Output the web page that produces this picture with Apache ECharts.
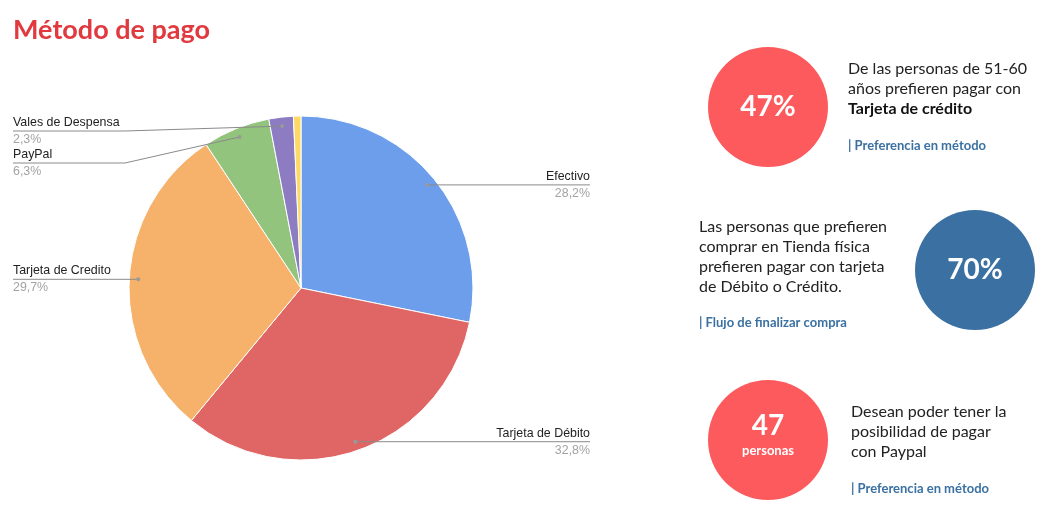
<!DOCTYPE html>
<html>
<head>
<meta charset="UTF-8">
<title>Método de pago</title>
<script src="https://cdn.jsdelivr.net/npm/echarts@6/dist/echarts.min.js"></script>
<style>
  html, body { margin: 0; padding: 0; background: #fff; }
  #main { width: 1060px; height: 523px; }
</style>
</head>
<body>
<div id="main"></div>
<script>
// datos del gráfico
var categories = ['Efectivo', 'Tarjeta de Débito', 'Tarjeta de Credito', 'PayPal', 'Vales de Despensa', 'Otro'];
var shares = [28.2, 32.8, 29.7, 6.3, 2.3, 0.7];
var colors = ['#6d9eeb', '#e06666', '#f6b26b', '#93c47d', '#8e7cc3', '#ffd966'];

// tarjetas de la derecha
var statValues = ['47%', '70%', '47'];
var statUnits = ['', '', 'personas'];
var statColors = ['#fc5a5c', '#3a71a2', '#fc5a5c'];
var statLines = [
  ['De las personas de 51-60', 'años prefieren pagar con', '*Tarjeta de crédito'],
  ['Las personas que prefieren', 'comprar en Tienda física', 'prefieren pagar con tarjeta', 'de Débito o Crédito.'],
  ['Desean poder tener la', 'posibilidad de pagar', 'con Paypal']
];
var statTags = ['| Preferencia en método', '| Flujo de finalizar compra', '| Preferencia en método'];

var PIE_C = [301, 288], PIE_R = 172, DOT_R = 163;
var LEFT_X = 13, RIGHT_X = 590, ELBOW_X = 125, LABEL_TOP = 131, LABEL_GAP = 32;

var dots = [];

function pct(v) {
  return v.toFixed(1).replace('.', ',') + '%';
}

function resolveY(i) {
  var d = dots[i];
  if (!d.left) return d.y;
  var lefts = [];
  dots.forEach(function (o, k) { if (o && o.left) lefts.push(k); });
  lefts.sort(function (a, b) { return dots[a].y - dots[b].y; });
  var prev = LABEL_TOP - LABEL_GAP, res = {};
  lefts.forEach(function (k) {
    var y = Math.max(dots[k].y, prev + LABEL_GAP);
    res[k] = y; prev = y;
  });
  return res[i];
}

function placeLabel(params) {
  var pts = params.labelLinePoints;
  if (!pts) return;
  var i = params.dataIndex;
  var p0 = pts[0];
  dots[i] = { x: p0[0], y: p0[1], left: pts[pts.length - 1][0] < p0[0] };
  var y = resolveY(i);
  if (dots[i].left) {
    var line = y === p0[1] ? [[p0[0], p0[1]], [LEFT_X, y]]
      : [[p0[0], p0[1]], [ELBOW_X, y], [LEFT_X, y]];
    return { x: LEFT_X, y: y, align: 'left', verticalAlign: 'middle', labelLinePoints: line };
  }
  return { x: RIGHT_X, y: y, align: 'right', verticalAlign: 'middle',
    labelLinePoints: [[p0[0], p0[1]], [RIGHT_X, y]] };
}

var pieData = categories.map(function (c, i) {
  var d = { name: c, value: shares[i], itemStyle: { color: colors[i] } };
  if (shares[i] < 1) { d.label = { show: false }; d.labelLine = { show: false }; }
  return d;
});

var FONT = 'Lato, "Open Sans", sans-serif';
var LABEL_FONT = '"Liberation Sans", Arial, sans-serif';
var statPos = [
  { cx: 768, cy: 107, tx: 848, ty: 89, tagY: 146 },
  { cx: 975, cy: 270, tx: 699, ty: 257, tagY: 323 },
  { cx: 768, cy: 440, tx: 851, ty: 432, tagY: 489 }
];

function staticGraphic() {
  var g = [];
  statValues.forEach(function (v, i) {
    var p = statPos[i];
    g.push({ type: 'circle', shape: { cx: p.cx, cy: p.cy, r: 60 }, style: { fill: statColors[i] }, silent: true });
    g.push({ type: 'text', x: p.cx, y: statUnits[i] ? p.cy - 14 : p.cy, silent: true,
      style: { text: v, fill: '#fff', font: 'bold 28px ' + FONT, align: 'center', verticalAlign: 'middle' } });
    if (statUnits[i]) {
      g.push({ type: 'text', x: p.cx, y: p.cy + 11, silent: true,
        style: { text: statUnits[i], fill: '#fff', font: 'bold 13px ' + FONT, align: 'center', verticalAlign: 'middle' } });
    }
    var txt = statLines[i].map(function (l) {
      return l.charAt(0) === '*' ? '{b|' + l.slice(1) + '}' : '{a|' + l + '}';
    }).join('\n');
    g.push({ type: 'text', x: p.tx, y: p.ty, silent: true,
      style: { text: txt, align: 'left', verticalAlign: 'middle',
        rich: {
          a: { fontSize: 16, fontFamily: FONT, fill: '#222', lineHeight: 20 },
          b: { fontSize: 16, fontFamily: FONT, fontWeight: 'bold', fill: '#111', lineHeight: 20 }
        } } });
    g.push({ type: 'text', x: p.tx, y: p.tagY, silent: true,
      style: { text: statTags[i], fill: '#3a71a2', font: 'bold 13px ' + FONT, align: 'left', verticalAlign: 'middle' } });
  });
  return g;
}

var chart = echarts.init(document.getElementById('main'));
var option = {
  animation: false,
  backgroundColor: '#fff',
  title: {
    text: 'Método de pago', left: 13, top: 17, padding: 0,
    textStyle: { color: '#e0393e', fontSize: 27, fontWeight: 'bold', fontFamily: FONT }
  },
  series: [
    {
      type: 'pie', center: PIE_C, radius: PIE_R, startAngle: 90, clockwise: true,
      silent: true, label: { show: false }, labelLine: { show: false },
      itemStyle: { borderColor: '#fff', borderWidth: 1 },
      data: pieData
    },
    {
      type: 'pie', center: PIE_C, radius: DOT_R, startAngle: 90, clockwise: true,
      silent: true, z: 3, avoidLabelOverlap: false,
      itemStyle: { color: 'rgba(0,0,0,0)', borderWidth: 0 },
      label: {
        show: true, position: 'outside', width: 220, overflow: 'none',
        formatter: function (p) { return '{n|' + p.name + '}\n{p|' + pct(p.value) + '}'; },
        rich: {
          n: { fontSize: 12.4, color: '#222', fontFamily: LABEL_FONT, lineHeight: 17 },
          p: { fontSize: 12.4, color: '#a3a3a3', fontFamily: LABEL_FONT, lineHeight: 17 }
        }
      },
      labelLine: { show: true, length: 10, length2: 10, lineStyle: { color: '#8a8a8a', width: 1 } },
      labelLayout: placeLabel,
      data: categories.map(function (c, i) {
        var d = { name: c, value: shares[i] };
        if (shares[i] < 1) { d.label = { show: false }; d.labelLine = { show: false }; }
        return d;
      })
    }
  ],
  graphic: staticGraphic()
};
chart.setOption(option);

// segunda pasada: puntos al inicio de cada línea guía
var g = staticGraphic();
dots.forEach(function (d) {
  if (!d) return;
  g.push({ type: 'circle', shape: { cx: d.x, cy: d.y, r: 2 }, style: { fill: '#999' }, silent: true, z: 10 });
});
chart.setOption({ graphic: g });
</script>
</body>
</html>
